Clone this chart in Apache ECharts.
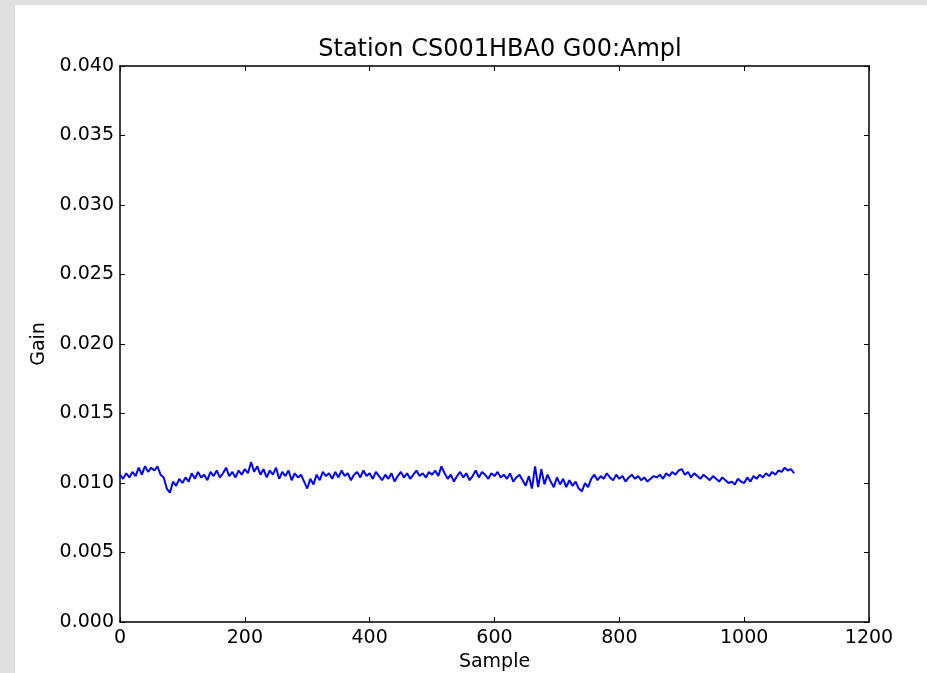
<!DOCTYPE html>
<html>
<head>
<meta charset="utf-8">
<script src="https://cdn.jsdelivr.net/npm/echarts@6/dist/echarts.min.js"></script>
<style>
html,body{margin:0;padding:0;background:#e0e0e0;}
#c{position:absolute;left:0;top:0;width:927px;height:673px;}
</style>
</head>
<body>
<div id="c"></div>
<script>
const titleText = "Station CS001HBA0 G00:Ampl";
const xName = "Sample";
const yName = "Gain";
const sampleStep = 5;
const gain = [
0.0106,0.0103,0.0107,0.0104,0.0108,0.0105,0.0111,0.0106,0.0112,0.0108,0.0111,0.0109,0.0112,0.0106,0.0104,0.0096,0.0093,0.0101,0.0098,0.0103,0.0100,
0.0104,0.0101,0.0107,0.0103,0.0108,0.0104,0.0106,0.0102,0.0108,0.0105,0.0109,0.0104,0.0107,0.0111,0.0105,0.0108,0.0104,0.0109,0.0106,0.0110,
0.0107,0.0115,0.0108,0.0112,0.0106,0.0110,0.0104,0.0109,0.0106,0.0111,0.0103,0.0108,0.0105,0.0109,0.0102,0.0107,0.0104,0.0106,0.0101,0.0096,
0.0103,0.0099,0.0106,0.0102,0.0108,0.0105,0.0107,0.0103,0.0108,0.0104,0.0109,0.0105,0.0107,0.0102,0.0106,0.0108,0.0104,0.0109,0.0105,0.0107,
0.0103,0.0108,0.0105,0.0102,0.0106,0.0103,0.0107,0.0101,0.0105,0.0108,0.0104,0.0107,0.0103,0.0106,0.0109,0.0105,0.0107,0.0104,0.0108,0.0106,
0.0109,0.0105,0.0112,0.0107,0.0103,0.0106,0.0101,0.0105,0.0108,0.0104,0.0107,0.0102,0.0105,0.0109,0.0104,0.0108,0.0106,0.0103,0.0107,0.0105,
0.0108,0.0104,0.0106,0.0103,0.0107,0.0101,0.0104,0.0106,0.0102,0.0098,0.0105,0.0096,0.0112,0.0097,0.0110,0.0099,0.0106,0.0101,0.0097,0.0104,
0.0099,0.0103,0.0097,0.0102,0.0098,0.0101,0.0096,0.0094,0.0100,0.0097,0.0103,0.0106,0.0102,0.0105,0.0103,0.0107,0.0104,0.0102,0.0106,0.0103,
0.0105,0.0101,0.0104,0.0106,0.0103,0.0105,0.0102,0.0104,0.0101,0.0103,0.0105,0.0104,0.0106,0.0103,0.0107,0.0105,0.0108,0.0106,0.0109,0.0110,
0.0106,0.0108,0.0104,0.0107,0.0105,0.0103,0.0106,0.0104,0.0102,0.0105,0.0103,0.0101,0.0104,0.0102,0.0100,0.0101,0.0099,0.0103,0.0101,0.0100,
0.0104,0.0101,0.0105,0.0103,0.0106,0.0104,0.0107,0.0105,0.0108,0.0106,0.0109,0.0108,0.0111,0.0109,0.0110,0.0107
];
const xTicks = [0,200,400,600,800,1000,1200];
const yTicks = [0,0.005,0.010,0.015,0.020,0.025,0.030,0.035,0.040];

const pairs = gain.map((v,i)=>[i*sampleStep, v]);
const FONT = "DejaVu Sans";
const chart = echarts.init(document.getElementById('c'), null, {renderer:'canvas', width:927, height:673});
const tickStyle = {show:true, inside:true, length:5, lineStyle:{color:'#000', width:1}};
const axisLine = {show:true, onZero:false, lineStyle:{color:'#000', width:1.5}};
chart.setOption({
  animation:false,
  backgroundColor:'#e0e0e0',
  graphic:[{type:'rect', z:-100, silent:true, shape:{x:15, y:5, width:912, height:668}, style:{fill:'#ffffff'}}],
  title:{text:titleText, left:495, textAlign:'center', top:33,
    textStyle:{fontFamily:FONT, fontSize:24, fontWeight:'normal', color:'#000'}},
  grid:{left:120, top:66, right:58, bottom:51, containLabel:false, outerBoundsMode:'none'},
  xAxis:[{
    type:'value', min:xTicks[0], max:xTicks[xTicks.length-1], interval:200,
    name:xName, nameLocation:'middle', nameGap:28,
    nameTextStyle:{fontFamily:FONT, fontSize:19, color:'#000'},
    axisLine:axisLine, axisTick:tickStyle, splitLine:{show:false},
    axisLabel:{fontFamily:FONT, fontSize:19, color:'#000', margin:7, formatter:(v)=>String(v)}
  },{
    type:'value', position:'top', min:xTicks[0], max:xTicks[xTicks.length-1], interval:200,
    axisLine:axisLine, axisTick:tickStyle, splitLine:{show:false}, axisLabel:{show:false}
  }],
  yAxis:[{
    type:'value', min:yTicks[0], max:yTicks[yTicks.length-1], interval:0.005,
    name:yName, nameLocation:'middle', nameGap:65, nameRotate:90,
    nameTextStyle:{fontFamily:FONT, fontSize:19, color:'#000'},
    axisLine:axisLine, axisTick:tickStyle, splitLine:{show:false},
    axisLabel:{fontFamily:FONT, fontSize:19, color:'#000', margin:6,
      formatter:(v)=>v.toFixed(3)}
  },{
    type:'value', position:'right', min:yTicks[0], max:yTicks[yTicks.length-1], interval:0.005,
    axisLine:axisLine, axisTick:tickStyle, splitLine:{show:false}, axisLabel:{show:false}
  }],
  series:[{
    type:'line', data:pairs, showSymbol:false, symbol:'none',
    lineStyle:{color:'#0000ff', width:2}, itemStyle:{color:'#0000ff'}
  }]
});
</script>
</body>
</html>
